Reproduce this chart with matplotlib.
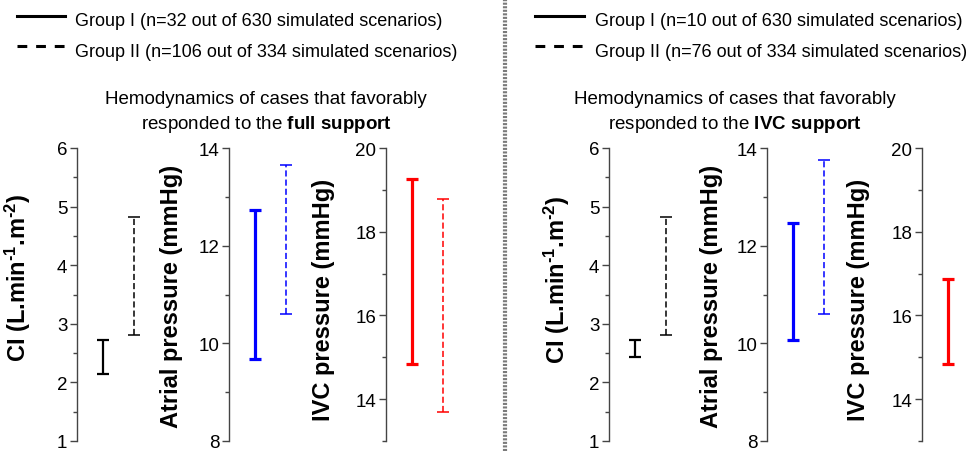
import matplotlib
matplotlib.use("Agg")
import matplotlib.pyplot as plt
from matplotlib.lines import Line2D
from matplotlib.ticker import MultipleLocator

plt.rcParams['font.family'] = ['Liberation Sans', 'DejaVu Sans']
plt.rcParams['mathtext.fontset'] = 'custom'
plt.rcParams['mathtext.rm'] = 'Liberation Sans'
plt.rcParams['mathtext.bf'] = 'Liberation Sans:bold'
plt.rcParams['mathtext.it'] = 'Liberation Sans:italic'

# ---------------- data ----------------
groups = ["Group I", "Group II"]
variables = ["CI", "Atrial", "IVC"]
ylabels = ["CI (L.min$^{\\mathbf{\u2011 1}}$.m$^{\\mathbf{\u2011 2}}$)",
           "Atrial pressure (mmHg)",
           "IVC pressure (mmHg)"]
var_colors = ["black", "#0000FF", "#FF0000"]
ylims = [(1, 6), (8, 14), (13, 20)]
major_steps = [1, 2, 2]
minor_steps = [0.5, 1, 1]

# full support panel: (low, high) per group
full_ci_lo = [2.14, 2.81]
full_ci_hi = [2.73, 4.83]
full_atrial_lo = [9.68, 10.60]
full_atrial_hi = [12.73, 13.65]
full_ivc_lo = [14.83, 13.70]
full_ivc_hi = [19.25, 18.77]

# IVC support panel
ivcs_ci_lo = [2.43, 2.81]
ivcs_ci_hi = [2.73, 4.83]
ivcs_atrial_lo = [10.07, 10.60]
ivcs_atrial_hi = [12.46, 13.75]
ivcs_ivc_lo = [14.83]
ivcs_ivc_hi = [16.86]

legend_full = ["Group I (n=32 out of 630 simulated scenarios)",
               "Group II (n=106 out of 334 simulated scenarios)"]
legend_ivcs = ["Group I (n=10 out of 630 simulated scenarios)",
               "Group II (n=76 out of 334 simulated scenarios)"]
title_line1 = "Hemodynamics of cases that favorably"
title_full = r"responded to the $\mathbf{full\ support}$"
title_ivcs = r"responded to the $\mathbf{IVC\ support}$"

panels = [
    dict(lo=[full_ci_lo, full_atrial_lo, full_ivc_lo],
         hi=[full_ci_hi, full_atrial_hi, full_ivc_hi],
         legend=legend_full, title2=title_full),
    dict(lo=[ivcs_ci_lo, ivcs_atrial_lo, ivcs_ivc_lo],
         hi=[ivcs_ci_hi, ivcs_atrial_hi, ivcs_ivc_hi],
         legend=legend_ivcs, title2=title_ivcs),
]

# ---------------- layout (pixels) ----------------
W, H = 967, 452
fig = plt.figure(figsize=(W / 100, H / 100), dpi=100)

spine_x = [[77, 229, 386], [609, 767, 922]]
label_right = [[33, 183, 335], [572, 723, 870]]
label_cy = [[278, 296, 300], [280, 296, 300]]
ax_top, ax_bot = 149, 442
unit_px = 31.0
x_left = 0.16
x_right = 2.5
ax_w = (x_right - x_left) * unit_px

legend_line_x = [(17, 65), (535, 584)]
legend_text_x = [75, 595]
legend_y = [17, 47]
legend_text_base = [26, 57]
title_cx = [266, 735]
title_base = [104, 129]

def fx(px):
    return px / W

def fy(py):
    return 1 - py / H

for p, panel in enumerate(panels):
    for v in range(3):
        left = spine_x[p][v]
        ax = fig.add_axes([fx(left), fy(ax_bot), ax_w / W, (ax_bot - ax_top) / H])
        ax.patch.set_alpha(0)
        for s in ["top", "right", "bottom"]:
            ax.spines[s].set_visible(False)
        ax.spines["left"].set_color("#444444")
        ax.spines["left"].set_linewidth(1.0)
        ax.set_xlim(x_left, x_right)
        ax.set_ylim(*ylims[v])
        ax.set_xticks([])
        ax.yaxis.set_major_locator(MultipleLocator(major_steps[v]))
        ax.yaxis.set_minor_locator(MultipleLocator(minor_steps[v]))
        ax.tick_params(axis="y", which="major", length=5, width=1.0,
                       color="#444444", labelsize=13.5, pad=2)
        ax.tick_params(axis="y", which="minor", length=3, width=1.0,
                       color="#444444")
        ax.set_ylabel(ylabels[v], fontsize=17, fontweight="bold")
        lx = (label_right[p][v] - left) / ax_w
        ly = (ax_bot - label_cy[p][v]) / (ax_bot - ax_top)
        ax.yaxis.set_label_coords(lx, ly)
        lo = panel["lo"][v]
        hi = panel["hi"][v]
        for g in range(len(lo)):
            xpos = g + 1
            mid = (lo[g] + hi[g]) / 2
            if g == 0:
                lw = 1.6 if v == 0 else 2.3
                ls = "-"
            else:
                lw = 1.1
                ls = (0, (4, 2))
            eb = ax.errorbar([xpos], [mid], yerr=[[mid - lo[g]], [hi[g] - mid]],
                             fmt="none", ecolor=var_colors[v], elinewidth=lw,
                             capsize=4, capthick=lw, clip_on=False)
            eb[2][0].set_linestyle(ls)

    # legend
    x0, x1 = legend_line_x[p]
    fig.add_artist(Line2D([fx(x0), fx(x1)], [fy(legend_y[0])] * 2,
                          color="black", lw=2.2, transform=fig.transFigure))
    fig.add_artist(Line2D([fx(x0), fx(x1)], [fy(legend_y[1])] * 2,
                          color="black", lw=2.2, linestyle=(0, (3.2, 2.9)),
                          transform=fig.transFigure))
    for i in range(2):
        fig.text(fx(legend_text_x[p]), fy(legend_text_base[i]), panel["legend"][i],
                 fontsize=13, ha="left", va="baseline")
    # title
    fig.text(fx(title_cx[p]), fy(title_base[0]), title_line1, fontsize=13.5,
             ha="center", va="baseline")
    fig.text(fx(title_cx[p]), fy(title_base[1]), panel["title2"], fontsize=13.5,
             ha="center", va="baseline")

# divider
fig.add_artist(Line2D([fx(505), fx(505)], [0, 1], color="#7a7a7a", lw=3,
                      linestyle=(0, (0.5, 0.35)), transform=fig.transFigure))

fig.savefig("out.png", dpi=100)
